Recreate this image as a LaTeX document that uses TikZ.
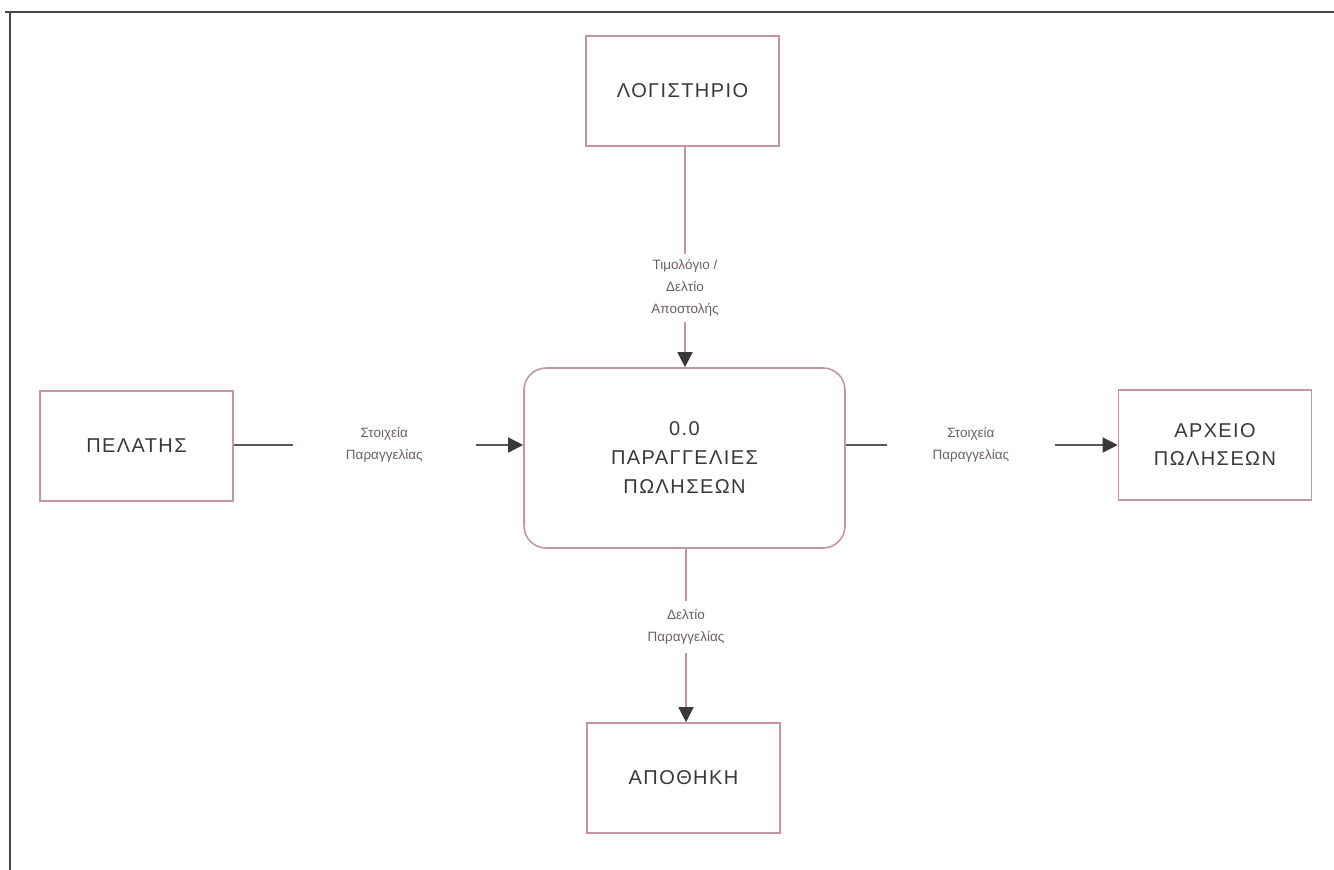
\documentclass[tikz,border=0pt]{standalone}
\usepackage{fontspec}
\setmainfont{Liberation Sans}
\newfontfamily\boxfont[LetterSpace=7]{Liberation Sans}
\usetikzlibrary{arrows.meta}
\definecolor{edgepink}{RGB}{196,150,160}
\definecolor{textgray}{RGB}{60,55,58}
\definecolor{labelgray}{RGB}{110,95,100}
\definecolor{framegray}{RGB}{70,70,70}
\begin{document}
\begin{tikzpicture}[x=1pt,y=-1pt,
  entity/.style={draw=edgepink,line width=1.6pt,minimum width=193pt,minimum height=110pt,
    align=center,font=\boxfont\fontsize{20}{28}\selectfont,text=textgray,inner sep=0pt},
  proc/.style={draw=edgepink,line width=1.6pt,rounded corners=22pt,minimum width=321pt,
    minimum height=180pt,align=center,font=\boxfont\fontsize{20}{29}\selectfont,text=textgray,inner sep=0pt},
  flowlabel/.style={fill=white,align=center,font=\fontsize{13.5}{22}\selectfont,text=labelgray,inner sep=0pt},
  flow/.style={line width=1.4pt,draw=edgepink,-{Triangle[width=15pt,length=15pt,color=textgray]}},
  hflow/.style={line width=1.4pt,draw=framegray!80!edgepink,-{Triangle[width=15pt,length=15pt,color=textgray]}}]
\useasboundingbox (0,0) rectangle (1334,870);
% frame
\draw[framegray,line width=2pt] (5,12) -- (1334,12);
\draw[framegray,line width=2pt] (10,12) -- (10,870);
% nodes
\node[entity] (log) at (682.5,91) {ΛΟΓΙΣΤΗΡΙΟ};
\node[entity] (pel) at (136.5,446) {ΠΕΛΑΤΗΣ};
\node[proc] (p) at (684.5,458) {0.0\\ΠΑΡΑΓΓΕΛΙΕΣ\\ΠΩΛΗΣΕΩΝ};
\node[entity] (arx) at (1215,445) {ΑΡΧΕΙΟ\\ΠΩΛΗΣΕΩΝ};
\node[entity] (apo) at (683.5,778) {ΑΠΟΘΗΚΗ};
% flows
\draw[flow] (log.south -| 685,0) -- node[flowlabel,pos=0.64,minimum height=68pt] {Τιμολόγιο /\\Δελτίο\\Αποστολής} (p.north -| 685,0);
\draw[hflow] (pel.east |- 0,445) -- node[flowlabel,minimum width=183pt,pos=0.52] {Στοιχεία\\Παραγγελίας} (p.west |- 0,445);
\draw[hflow] (p.east |- 0,445) -- node[flowlabel,minimum width=168pt,pos=0.46] {Στοιχεία\\Παραγγελίας} (arx.west |- 0,445);
\draw[flow] (p.south -| 686,0) -- node[flowlabel,pos=0.45,minimum height=52pt] {Δελτίο\\Παραγγελίας} (apo.north -| 686,0);
\end{tikzpicture}
\end{document}
